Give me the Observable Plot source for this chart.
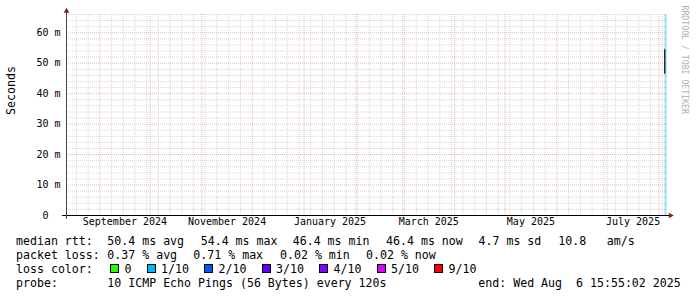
<!DOCTYPE html>
<html><head><meta charset="utf-8">
<script src="https://cdn.jsdelivr.net/npm/d3@7"></script>
<script src="https://cdn.jsdelivr.net/npm/@observablehq/plot@0.6"></script>
<style>
html,body{margin:0;padding:0;background:#fff;}
#chart{position:relative;width:697px;height:297px;overflow:hidden;font-family:"DejaVu Sans Mono",monospace;background:#fff;}
#chart svg{position:absolute;left:0;top:0;}
.lg{position:absolute;font-size:11.6px;line-height:14px;white-space:pre;color:#000;font-family:"DejaVu Sans Mono",monospace;}
.box{position:absolute;width:7px;height:7px;border:1px solid #000;}
</style></head><body><div id="chart"></div>
<script>
// ---- data ----
const startTime = "2024-08-12T03:00:00Z";
const endTime = "2025-08-06T15:55:02Z";
const monthLabels = ["September 2024","November 2024","January 2025","March 2025","May 2025","July 2025"];
const monthLabelStarts = ["2024-09-01","2024-11-01","2025-01-01","2025-03-01","2025-05-01","2025-07-01"];
const yTicks = [0,10,20,30,40,50,60];
const yMax = 66;
const sampleTimes = ["2025-08-04T10:30:00Z","2025-08-04T20:30:00Z"];
const medianRange = [46.4, 54.4];
const rttStats = [50.4, 54.4, 46.4, 46.4];   // avg, max, min, now (ms)
const rttSd = [4.7];
const rttAmps = [10.8];
const lossStats = [0.37, 0.71, 0.02, 0.02]; // avg, max, min, now (%)
const lossLabels = ["0","1/10","2/10","3/10","4/10","5/10","9/10"];
const lossColors = ["#26ff00","#00b8ff","#0059ff","#5e00ff","#7e00ff","#dd00ff","#ff0000"];
const probeText = "10 ICMP Echo Pings (56 Bytes) every 120s";
const endText = "end: Wed Aug  6 15:55:02 2025";

// ---- scales helpers ----
const x0 = new Date(startTime), x1 = new Date(endTime);
const majorX = d3.utcMonth.range(d3.utcMonth.ceil(x0), x1);
const majorSet = new Set(majorX.map(d => +d));
const minorX = d3.utcSunday.range(x0, x1).filter(d => !majorSet.has(+d));
const majorY = d3.range(10, yMax + 1, 10);
const minorY = d3.range(2, yMax + 1, 2).filter(v => v % 10 !== 0);
const labelMid = monthLabelStarts.map(s => {
  const a = new Date(s), b = d3.utcMonth.offset(a, 1);
  return new Date((+a + +b) / 2);
});

const mono = "DejaVu Sans Mono";
const plot = Plot.plot({
  width: 697, height: 230,
  marginLeft: 66, marginRight: 29, marginTop: 14, marginBottom: 15,
  x: {type: "utc", domain: [x0, x1], axis: null},
  y: {domain: [0, yMax], axis: null},
  style: {fontFamily: mono, fontSize: "10px", background: "transparent", overflow: "visible", color: "#000"},
  marks: [
    Plot.gridY(minorY, {stroke: "#8f8f8f", strokeOpacity: 0.35, strokeDasharray: "1,1"}),
    Plot.gridX(minorX, {stroke: "#8f8f8f", strokeOpacity: 0.35, strokeDasharray: "1,1"}),
    Plot.gridY(majorY, {stroke: "#de5a5a", strokeOpacity: 0.45, strokeDasharray: "1,1"}),
    Plot.gridX(majorX, {stroke: "#de5a5a", strokeOpacity: 0.45, strokeDasharray: "1,1"}),
    Plot.ruleX([sampleTimes[1]], {x: d => new Date(d), stroke: lossColors[1], strokeOpacity: 0.4, strokeWidth: 2}),
    Plot.ruleX([sampleTimes[0]], {x: d => new Date(d), y1: medianRange[0], y2: medianRange[1], stroke: "#000", strokeWidth: 1.2}),
    Plot.ruleY([medianRange[1]], {x1: new Date(sampleTimes[0]), x2: new Date(sampleTimes[1]), stroke: lossColors[1], strokeWidth: 1.2, dy: -1}),
    Plot.ruleY([0], {stroke: "#000", insetLeft: -4, insetRight: -1}),
    Plot.ruleX([x0], {stroke: "#444", insetTop: -2, insetBottom: -4}),
    Plot.dot([yMax], {x: () => x0, y: d => d, symbol: "triangle", r: 2.1, fill: "#8b1c1c", stroke: "none", dy: -3.5}),
    Plot.dot([0], {x: () => x1, y: d => d, symbol: "triangle", rotate: 90, r: 2.1, fill: "#8b1c1c", stroke: "none", dx: 2}),
    Plot.axisY(yTicks, {tickSize: 0, tickPadding: 6, label: null, fontSize: 10, fill: "#000",
      tickFormat: d => d === 0 ? "0\u00a0\u00a0" : `${d} m`}),
    Plot.text(monthLabels, {x: (d, i) => labelMid[i], frameAnchor: "bottom", dy: 9, fontSize: 10, fill: "#000"}),
    Plot.text(["Seconds"], {frameAnchor: "left", dx: -55, rotate: -90, fontSize: 11.6, fill: "#000"}),
    Plot.text(["RRDTOOL / TOBI OETIKER"], {frameAnchor: "top-right", dx: 19.5, dy: -9, rotate: 90, textAnchor: "start", fill: "#b0b0b0", fontSize: 8.2})
  ]
});
const chart = document.getElementById("chart");
chart.appendChild(plot);

// ---- legend (HTML) ----
function put(text, left, top) {
  const s = document.createElement("div");
  s.className = "lg"; s.textContent = text;
  s.style.left = left + "px"; s.style.top = top + "px";
  chart.appendChild(s);
}
const f1 = v => v.toFixed(1), f2 = v => v.toFixed(2);
const line1 = ["median rtt:", `${f1(rttStats[0])} ms avg`, `${f1(rttStats[1])} ms max`, `${f1(rttStats[2])} ms min`,
  `${f1(rttStats[3])} ms now`, `${f1(rttSd[0])} ms sd`, `${f1(rttAmps[0])}`, "am/s"];
const line1X = [16, 107.3, 200.7, 292.7, 386, 478.5, 558.3, 606.7];
line1.forEach((t, i) => put(t, line1X[i], 233.7));
const line2 = ["packet loss:", `${f2(lossStats[0])} % avg`, `${f2(lossStats[1])} % max`, `${f2(lossStats[2])} % min`, `${f2(lossStats[3])} % now`];
const line2X = [16, 107.3, 193.3, 280, 366];
line2.forEach((t, i) => put(t, line2X[i], 248.3));
put("loss color:", 16, 262.3);
let bx = 110;
lossLabels.forEach((lab, i) => {
  const b = document.createElement("div");
  b.className = "box"; b.style.left = bx + "px"; b.style.top = "264px"; b.style.background = lossColors[i];
  chart.appendChild(b);
  put(lab, bx + 14.5, 262.3);
  bx += 9 + 5.5 + lab.length * 7 + 15;
});
put("probe:", 16, 276.3);
put(probeText, 107.3, 276.3);
put(endText, 478.3, 276.3);
</script></body></html>
